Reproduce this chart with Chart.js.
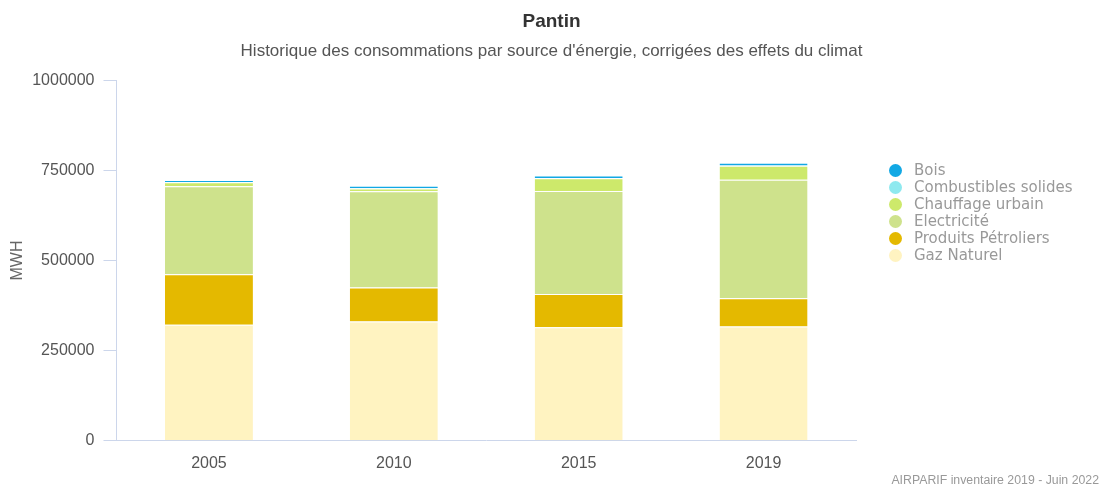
<!DOCTYPE html>
<html>
<head>
<meta charset="utf-8">
<script src="https://cdn.jsdelivr.net/npm/chart.js@4/dist/chart.umd.min.js"></script>
<style>
  body { margin: 0; background: #fff; }
  #wrap { position: relative; width: 1103px; height: 488px; }
  #legend { position: absolute; left: 889px; top: 162px; margin: 0; padding: 0; list-style: none;
            font: 15px "DejaVu Sans", Verdana, sans-serif; color: #999; }
  #legend li { height: 17px; line-height: 17px; white-space: nowrap; }
  #legend span { display: inline-block; width: 13px; height: 13px; border-radius: 50%;
                 margin-right: 12px; vertical-align: -2px; }
  #credits { position: absolute; right: 4px; bottom: 1px;
             font: 12.3px "Liberation Sans", Arial, sans-serif; color: #999; }
</style>
</head>
<body>
<div id="wrap">
  <canvas id="chart" width="1103" height="488"></canvas>
  <ul id="legend"></ul>
  <div id="credits">AIRPARIF inventaire 2019 - Juin 2022</div>
</div>
<script>
// Consommations (MWh) par source, corrigées du climat
const years = ["2005", "2010", "2015", "2019"];
const gazNaturel = [322000, 331000, 315000, 317000];
const produitsPetroliers = [140000, 94000, 92000, 78000];
const electricite = [244000, 267000, 286000, 329000];
const chauffageUrbain = [11000, 8000, 35000, 39000];
const combustiblesSolides = [1000, 800, 500, 500];
const bois = [4500, 6500, 6900, 7700];
const yTicks = [0, 250000, 500000, 750000, 1000000];

const series = [
  { label: "Gaz Naturel", data: gazNaturel, color: "#fff3c1" },
  { label: "Produits Pétroliers", data: produitsPetroliers, color: "#e4b900" },
  { label: "Electricité", data: electricite, color: "#cee28c" },
  { label: "Chauffage urbain", data: chauffageUrbain, color: "#cde96b" },
  { label: "Combustibles solides", data: combustiblesSolides, color: "#8ee9ef" },
  { label: "Bois", data: bois, color: "#12a8e4" }
];

const axisColor = "#ccd6eb";
const sans = "'Liberation Sans', Arial, sans-serif";
const tickFont = { family: sans, size: 16 };

const chart = new Chart(document.getElementById("chart"), {
  type: "bar",
  data: {
    labels: years,
    datasets: series.map(s => ({
      label: s.label,
      data: s.data,
      backgroundColor: s.color,
      borderColor: "#ffffff",
      borderWidth: { top: 1, bottom: 0, left: 0, right: 0 },
      borderSkipped: false,
      categoryPercentage: 1,
      barPercentage: 0.476
    }))
  },
  options: {
    responsive: false,
    devicePixelRatio: 1,
    animation: false,
    layout: { padding: { left: 0, right: 0, top: 0, bottom: 2 } },
    plugins: {
      legend: { display: false },
      tooltip: { enabled: false },
      title: {
        display: true,
        text: "Pantin",
        color: "#333",
        font: { family: sans, size: 19, weight: "bold" },
        padding: { top: 10, bottom: 4 }
      },
      subtitle: {
        display: true,
        text: "Historique des consommations par source d'énergie, corrigées des effets du climat",
        color: "#555",
        font: { family: sans, size: 17 },
        padding: { top: 4, bottom: 19 }
      }
    },
    scales: {
      x: {
        stacked: true,
        grid: { drawOnChartArea: false, drawTicks: false },
        border: { color: axisColor, width: 1 },
        ticks: { color: "#555", font: tickFont, padding: 13 }
      },
      y: {
        stacked: true,
        min: 0,
        max: 1000000,
        afterBuildTicks: axis => { axis.ticks = yTicks.map(v => ({ value: v })); },
        grid: { drawOnChartArea: false, drawTicks: true, tickLength: 13, color: axisColor },
        border: { color: axisColor, width: 1 },
        ticks: { color: "#555", font: tickFont, padding: 9, callback: v => String(v) },
        title: {
          display: true,
          text: "MWH",
          color: "#666",
          font: tickFont,
          padding: { top: 8, bottom: -4 }
        }
      },
      // empty right-hand box: keeps room for the legend while titles stay centred on the canvas
      side: {
        position: "right",
        display: true,
        grid: { display: false },
        border: { display: false },
        ticks: { display: false },
        afterFit: scale => { scale.width = 247; }
      }
    }
  }
});

// legend: Bois on top, same order as the stack read from the top
const legend = document.getElementById("legend");
series.slice().reverse().forEach(s => {
  const li = document.createElement("li");
  const dot = document.createElement("span");
  dot.style.background = s.color;
  li.appendChild(dot);
  li.appendChild(document.createTextNode(s.label));
  legend.appendChild(li);
});
</script>
</body>
</html>
